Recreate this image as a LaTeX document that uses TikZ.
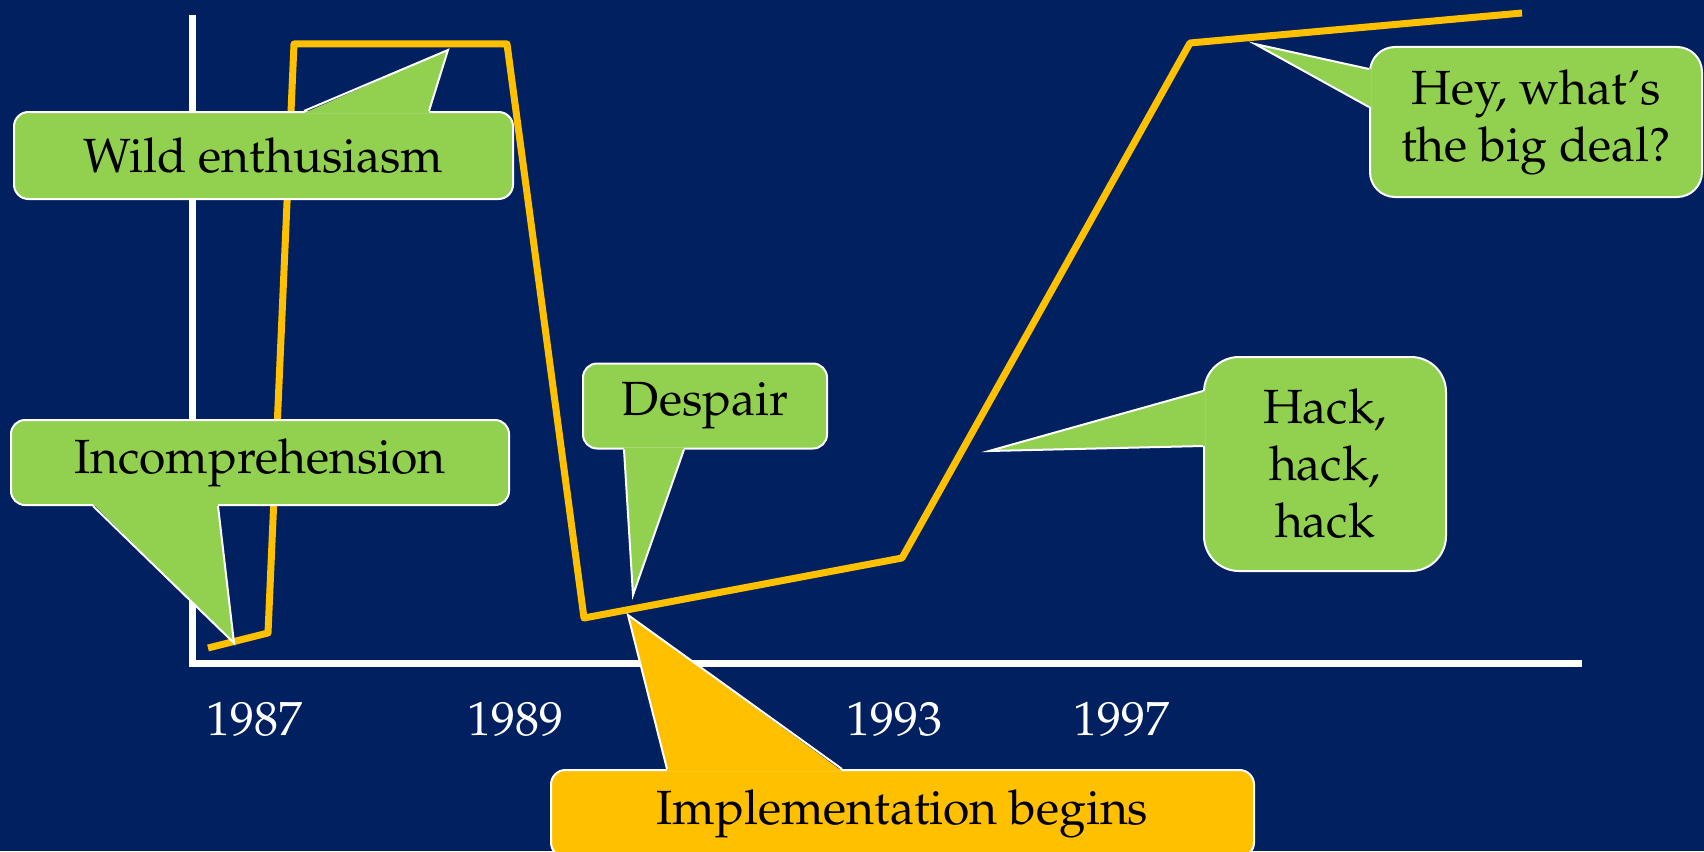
\documentclass[tikz,border=0pt]{standalone}
\usepackage[T1]{fontenc}
\usepackage{mathpazo}
\usetikzlibrary{calc}
\definecolor{slideblue}{RGB}{0,32,96}
\definecolor{bubblegreen}{RGB}{146,208,80}
\definecolor{gold}{RGB}{255,192,0}
\begin{document}
\begin{tikzpicture}
          [ x=1pt, y=-1pt,
            bubble/.style={
              rectangle,
              draw=white,
              line width=2pt,
              fill=bubblegreen,
              inner sep=0pt,
              align=center,
              font=\fontsize{48}{57}\selectfont},
            wedge/.style={
              fill=bubblegreen},
            wedgeline/.style={
              draw=white,
              line width=2pt,
              line join=miter},
            year/.style={
              text=white,
              font=\fontsize{48}{57}\selectfont},
            curve/.style={
              draw=gold,
              line width=7pt,
              line join=round},
          ]

          \clip (0,0) rectangle (1704,851);
          \fill[slideblue] (0,0) rectangle (1704,851);

          % axes and years
          \draw[white, line width=7pt, line join=miter] (192,15) -- (192,663) -- (1582,663);
          \node[year] (y87) at (254,719) {1987};
          \node[year] (y89) at (515,719) {1989};
          \node[year] (y93) at (894,719) {1993};
          \node[year] (y97) at (1121,719) {1997};

          % the curve
          \draw[curve] (208,648) -- (268,633) -- (294,44) -- (507,44) -- (584,618)
            -- (902,558) -- (1190,43) -- (1522,13);

          % callouts
          \node (wild) [bubble, rounded corners=14.5pt, minimum width=499pt, minimum height=87pt]
            at (263.5,155.5) {Wild enthusiasm};
          \coordinate (wildtip) at (448,50);
          \fill[wedge] ($(wild.north west)+(291,2)$) -- (wildtip) -- ($(wild.north west)+(416,2)$) -- cycle;
          \draw[wedgeline] ($(wild.north west)+(291,0)$) -- (wildtip) -- ($(wild.north west)+(416,0)$);

          \node (incomp) [bubble, rounded corners=14pt, minimum width=498pt, minimum height=85pt]
            at (260,462.5) {Incomprehension};
          \coordinate (incomptip) at (234,643);
          \fill[wedge] ($(incomp.south west)+(83,-2)$) -- (incomptip) -- ($(incomp.south west)+(208,-2)$) -- cycle;
          \draw[wedgeline] ($(incomp.south west)+(83,0)$) -- (incomptip) -- ($(incomp.south west)+(208,0)$);

          \node (despair) [bubble, rounded corners=14pt, minimum width=244pt, minimum height=85pt]
            at (705,406) {Despair};
          \coordinate (despairtip) at (633,595);
          \fill[wedge] ($(despair.south west)+(42,-2)$) -- (despairtip) -- ($(despair.south west)+(102,-2)$) -- cycle;
          \draw[wedgeline] ($(despair.south west)+(42,0)$) -- (despairtip) -- ($(despair.south west)+(102,0)$);

          \node (bigdeal) [bubble, rounded corners=25pt, minimum width=332pt, minimum height=150pt]
            at (1536,122) {Hey, what's\\the big deal?};
          \coordinate (bigdealtip) at (1255,44);
          \fill[wedge] ($(bigdeal.north west)+(2,23)$) -- (bigdealtip) -- ($(bigdeal.north west)+(2,61)$) -- cycle;
          \draw[wedgeline] ($(bigdeal.north west)+(0,23)$) -- (bigdealtip) -- ($(bigdeal.north west)+(0,61)$);

          \node (hack) [bubble, rounded corners=35pt, minimum width=242pt, minimum height=214pt]
            at (1325,464) {Hack,\\hack,\\hack};
          \coordinate (hacktip) at (989,451);
          \fill[wedge] ($(hack.north west)+(2,35)$) -- (hacktip) -- ($(hack.north west)+(2,90)$) -- cycle;
          \draw[wedgeline] ($(hack.north west)+(0,35)$) -- (hacktip) -- ($(hack.north west)+(0,90)$);

          \node (impl) [bubble, fill=gold, rounded corners=14.5pt, minimum width=703pt, minimum height=87pt]
            at (902.5,813.5) {Implementation begins};
          \coordinate (impltip) at (628,615);
          \fill[gold] ($(impl.north west)+(117,2)$) -- (impltip) -- ($(impl.north west)+(292,2)$) -- cycle;
          \draw[wedgeline] ($(impl.north west)+(117,0)$) -- (impltip) -- ($(impl.north west)+(292,0)$);

        \end{tikzpicture}
\end{document}
